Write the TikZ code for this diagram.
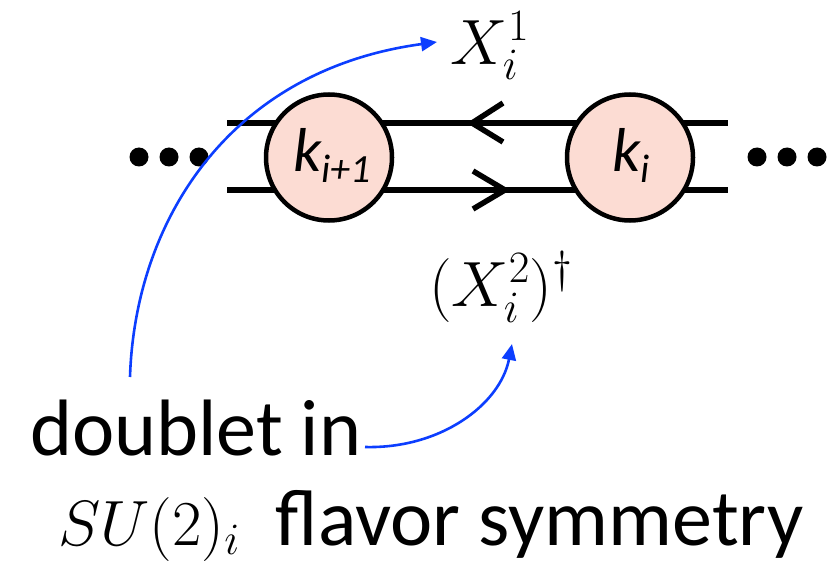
\RequirePackage{fix-cm}
\documentclass[tikz,border=0pt]{standalone}
\usepackage{fontspec}
\setmainfont{Carlito}
\usetikzlibrary{arrows.meta}
\definecolor{nodefill}{RGB}{252,220,211}
\definecolor{arrowblue}{RGB}{12,62,255}
\tikzset{
  gauge/.style={circle, draw=black, line width=4.5pt, fill=nodefill, minimum size=126pt, inner sep=0pt},
  quiver/.style={line width=5.5pt, draw=black},
  chevron/.style={line width=5.5pt, draw=black, line join=miter},
  bluearrow/.style={draw=arrowblue, line width=2.6pt, -{Triangle[length=16pt,width=14pt]}},
  mathlabel/.style={inner sep=0pt, font=\fontsize{64}{70}\selectfont},
  textlabel/.style={inner sep=0pt, font=\fontsize{80}{84}\selectfont},
  klabel/.style={inner sep=0pt, font=\fontsize{62}{66}\selectfont\itshape},
  dot/.style={circle, fill=black, inner sep=0pt, minimum size=19pt}
}
\newcommand{\ksub}[1]{\raisebox{-10pt}{\fontsize{40}{44}\selectfont #1}}
\begin{document}
\begin{tikzpicture}[x=1pt,y=-1pt]
\useasboundingbox (0,0) rectangle (832,564);
% horizontal lines
\coordinate (tl) at (227,123);
\coordinate (tr) at (728,123);
\coordinate (bl) at (227,190);
\coordinate (br) at (728,190);
\draw[quiver] (tl) -- (tr);
\draw[quiver] (bl) -- (br);
% chevrons
\draw[chevron] (503,103) -- (472,123) -- (503,142);
\draw[chevron] (473,171) -- (505,190) -- (473,209);
% gauge nodes
\node[gauge] (kip1) at (329,157.5) {};
\node[klabel, anchor=base west] at (293,172) {k\ksub{i+1}};
\node[gauge] (ki) at (630,157.5) {};
\node[klabel, anchor=base west] at (612,172) {k\ksub{i}};
% dots
\node[dot] (d1) at (139,157) {};
\node[dot] (d2) at (169,157) {};
\node[dot] (d3) at (199,157) {};
\node[dot] (d4) at (757,157) {};
\node[dot] (d5) at (787,157) {};
\node[dot] (d6) at (817,157) {};
% labels
\node[mathlabel] (x1) at (490,46) {$X_i^1$};
\node[mathlabel] (x2) at (501,287) {$(X_i^2)^\dagger$};
\node[textlabel, anchor=base west] (doub) at (30,455) {doublet in};
\node[anchor=base west, inner sep=0pt] (su) at (58,545) {{\fontsize{64}{70}\selectfont$SU(2)_i$}\hspace{36pt}{\fontsize{80}{84}\selectfont flavor symmetry}};
% blue arrows
\coordinate (a1s) at (130,377);
\coordinate (a1e) at (437,42);
\coordinate (a2s) at (365,447);
\coordinate (a2e) at (512,344);
\draw[bluearrow] (a1s) .. controls (135,220) and (230,70) .. (a1e);
\draw[bluearrow] (a2s) .. controls (440,449) and (500,405) .. (a2e);
\end{tikzpicture}
\end{document}
